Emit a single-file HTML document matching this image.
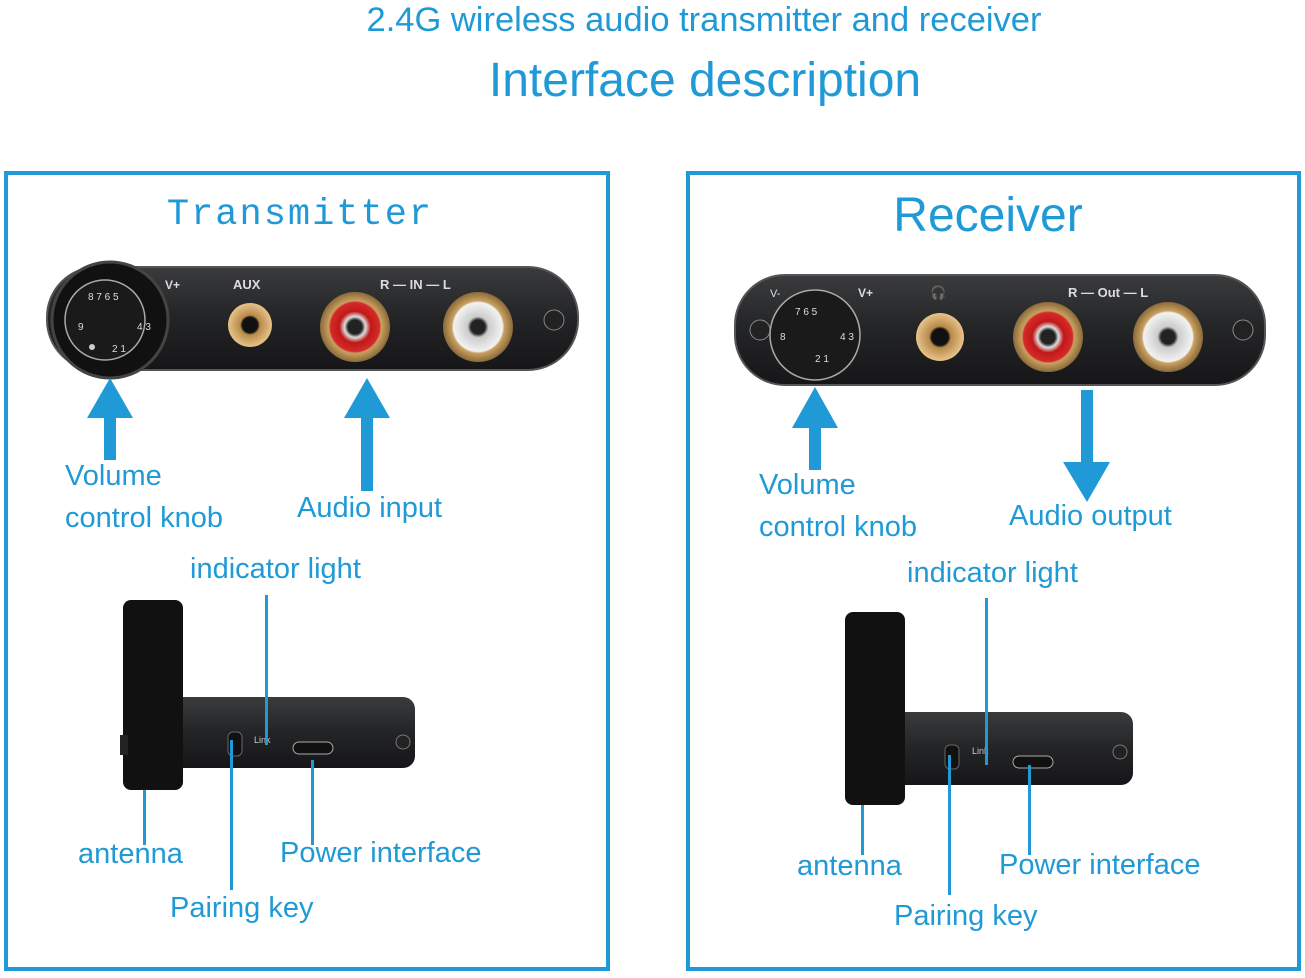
<!DOCTYPE html>
<html><head><meta charset="utf-8"><style>
html,body{margin:0;padding:0;background:#fff;}
svg{display:block;}
text{font-family:"Liberation Sans",sans-serif;fill:#1f9ad6;}
</style></head><body>
<svg width="1305" height="978" viewBox="0 0 1305 978" xmlns="http://www.w3.org/2000/svg">
<defs>
<linearGradient id="panel" x1="0" y1="0" x2="0" y2="1">
<stop offset="0" stop-color="#3a3b3d"/><stop offset="0.5" stop-color="#232426"/><stop offset="1" stop-color="#161618"/></linearGradient>
<radialGradient id="gold"><stop offset="0.35" stop-color="#111"/><stop offset="0.45" stop-color="#b8894a"/><stop offset="1" stop-color="#e8c48a"/></radialGradient>
<radialGradient id="red"><stop offset="0.2" stop-color="#222"/><stop offset="0.3" stop-color="#ddd"/><stop offset="0.45" stop-color="#c01818"/><stop offset="0.7" stop-color="#d62a2a"/><stop offset="0.75" stop-color="#c9a060"/><stop offset="1" stop-color="#8a6a3a"/></radialGradient>
<radialGradient id="white"><stop offset="0.2" stop-color="#222"/><stop offset="0.3" stop-color="#ccc"/><stop offset="0.7" stop-color="#f2f2f2"/><stop offset="0.75" stop-color="#c9a060"/><stop offset="1" stop-color="#8a6a3a"/></radialGradient>
</defs>
<text x="704" y="31" font-size="34.5" text-anchor="middle">2.4G wireless audio transmitter and receiver</text>
<text x="705" y="96" font-size="48" text-anchor="middle">Interface description</text>

<rect x="6" y="173" width="602" height="796" fill="none" stroke="#1f9ad6" stroke-width="4"/>
<rect x="688" y="173" width="611" height="796" fill="none" stroke="#1f9ad6" stroke-width="4"/>

<text x="300" y="224" font-size="37" text-anchor="middle" style="font-family:'Liberation Mono',monospace;fill:#1f9ad6" letter-spacing="2">Transmitter</text>
<text x="988" y="231" font-size="48" text-anchor="middle">Receiver</text>

<!-- Transmitter panel -->
<rect x="47" y="267" width="531" height="103" rx="50" fill="url(#panel)" stroke="#555" stroke-width="2"/>
<circle cx="110" cy="320" r="58" fill="#111" stroke="#444" stroke-width="3"/>
<circle cx="105" cy="320" r="40" fill="#1a1a1a" stroke="#aaa" stroke-width="1.5"/>
<g font-size="10"><text x="88" y="300" style="fill:#ddd">8 7 6 5</text><text x="78" y="330" style="fill:#ddd">9</text><text x="137" y="330" style="fill:#ddd">4 3</text><text x="112" y="352" style="fill:#ddd">2 1</text></g>
<circle cx="92" cy="347" r="3" fill="#ccc"/>
<text x="165" y="289" font-size="12" style="fill:#ddd;font-weight:bold">V+</text>
<text x="233" y="289" font-size="13" style="fill:#ddd;font-weight:bold">AUX</text>
<text x="380" y="289" font-size="13" style="fill:#ddd;font-weight:bold">R — IN — L</text>
<circle cx="250" cy="325" r="22" fill="url(#gold)"/>
<circle cx="355" cy="327" r="35" fill="url(#red)"/>
<circle cx="478" cy="327" r="35" fill="url(#white)"/>
<circle cx="554" cy="320" r="10" fill="#222" stroke="#888"/>

<rect x="104" y="415" width="12" height="45" fill="#1f9ad6"/>
<polygon points="87,418 110,378 133,418" fill="#1f9ad6"/>
<rect x="361" y="415" width="12" height="76" fill="#1f9ad6"/>
<polygon points="344,418 367,378 390,418" fill="#1f9ad6"/>
<text x="65" y="485" font-size="29">Volume</text>
<text x="65" y="527" font-size="29">control knob</text>
<text x="297" y="517" font-size="29">Audio input</text>
<text x="190" y="578" font-size="29">indicator light</text>

<!-- Transmitter side -->
<rect x="170" y="697" width="245" height="71" rx="12" fill="url(#panel)"/>
<rect x="123" y="600" width="60" height="190" rx="8" fill="#111"/>
<rect x="120" y="735" width="8" height="20" fill="#222"/>
<rect x="228" y="732" width="14" height="24" rx="5" fill="#111" stroke="#666"/>
<text x="254" y="743" font-size="9" style="fill:#ccc">Link</text>
<rect x="293" y="742" width="40" height="12" rx="6" fill="#111" stroke="#aaa"/>
<circle cx="403" cy="742" r="7" fill="#222" stroke="#777"/>
<rect x="265" y="595" width="3" height="150" fill="#1f9ad6"/>
<rect x="143" y="790" width="3" height="55" fill="#1f9ad6"/>
<rect x="230" y="740" width="3" height="150" fill="#1f9ad6"/>
<rect x="311" y="760" width="3" height="85" fill="#1f9ad6"/>
<text x="78" y="863" font-size="29">antenna</text>
<text x="280" y="862" font-size="29">Power interface</text>
<text x="170" y="917" font-size="29">Pairing key</text>

<!-- Receiver panel -->
<rect x="735" y="275" width="530" height="110" rx="50" fill="url(#panel)" stroke="#555" stroke-width="2"/>
<circle cx="760" cy="330" r="10" fill="#222" stroke="#888"/>
<circle cx="815" cy="335" r="45" fill="#1a1a1a" stroke="#aaa" stroke-width="1.5"/>
<g font-size="10"><text x="795" y="315" style="fill:#ddd">7 6 5</text><text x="780" y="340" style="fill:#ddd">8</text><text x="840" y="340" style="fill:#ddd">4 3</text><text x="815" y="362" style="fill:#ddd">2 1</text></g>
<text x="770" y="297" font-size="11" style="fill:#ddd">V-</text>
<text x="858" y="297" font-size="12" style="fill:#ddd;font-weight:bold">V+</text>
<text x="930" y="297" font-size="13" style="fill:#ddd">🎧</text>
<text x="1068" y="297" font-size="13" style="fill:#ddd;font-weight:bold">R — Out — L</text>
<circle cx="940" cy="337" r="24" fill="url(#gold)"/>
<circle cx="1048" cy="337" r="35" fill="url(#red)"/>
<circle cx="1168" cy="337" r="35" fill="url(#white)"/>
<circle cx="1243" cy="330" r="10" fill="#222" stroke="#888"/>

<rect x="809" y="425" width="12" height="45" fill="#1f9ad6"/>
<polygon points="792,428 815,387 838,428" fill="#1f9ad6"/>
<rect x="1081" y="390" width="12" height="75" fill="#1f9ad6"/>
<polygon points="1063,462 1087,502 1110,462" fill="#1f9ad6"/>
<text x="759" y="494" font-size="29">Volume</text>
<text x="759" y="536" font-size="29">control knob</text>
<text x="1009" y="525" font-size="29">Audio output</text>
<text x="907" y="582" font-size="29">indicator light</text>

<rect x="880" y="712" width="253" height="73" rx="12" fill="url(#panel)"/>
<rect x="845" y="612" width="60" height="193" rx="8" fill="#111"/>
<rect x="945" y="745" width="14" height="24" rx="5" fill="#111" stroke="#666"/>
<text x="972" y="754" font-size="9" style="fill:#ccc">Link</text>
<rect x="1013" y="756" width="40" height="12" rx="6" fill="#111" stroke="#aaa"/>
<circle cx="1120" cy="752" r="7" fill="#222" stroke="#777"/>
<rect x="985" y="598" width="3" height="167" fill="#1f9ad6"/>
<rect x="861" y="805" width="3" height="50" fill="#1f9ad6"/>
<rect x="948" y="755" width="3" height="140" fill="#1f9ad6"/>
<rect x="1028" y="765" width="3" height="90" fill="#1f9ad6"/>
<text x="797" y="875" font-size="29">antenna</text>
<text x="999" y="874" font-size="29">Power interface</text>
<text x="894" y="925" font-size="29">Pairing key</text>
</svg>
</body></html>
